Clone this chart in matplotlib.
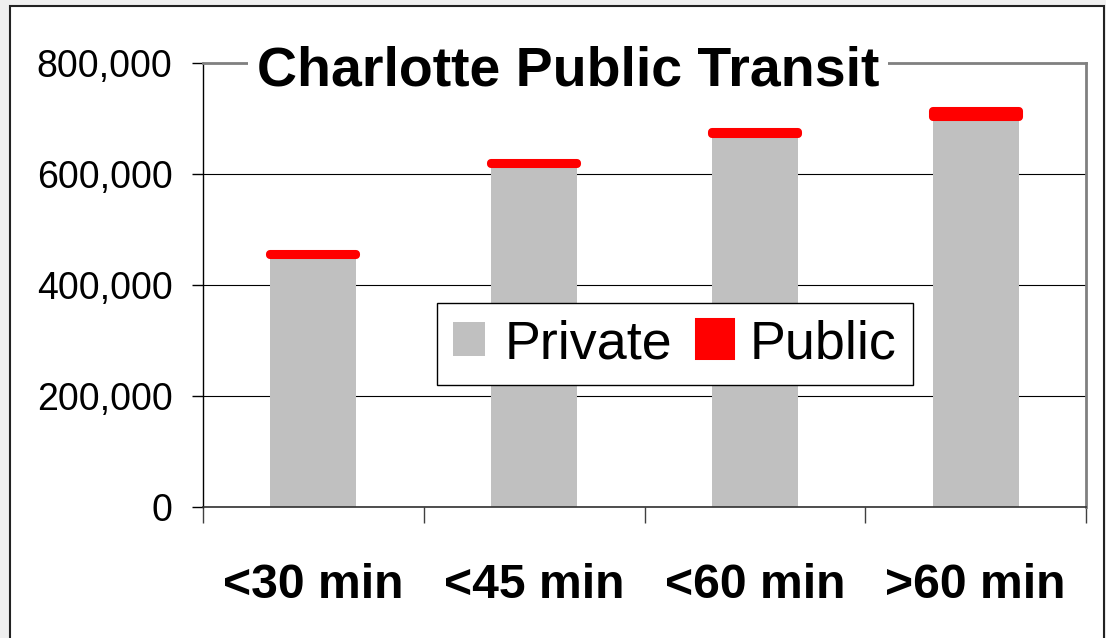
import matplotlib.pyplot as plt
from matplotlib.patches import Rectangle
from matplotlib.ticker import FuncFormatter

# Data
categories = ['<30 min', '<45 min', '<60 min', '>60 min']
private = [454000, 618000, 672000, 703000]
public = [2000, 2000, 3500, 10500]
y_ticks = [0, 200000, 400000, 600000, 800000]

plt.rcParams['font.family'] = ['Liberation Sans', 'DejaVu Sans']


def plot_transit(categories, private, public):
    fig = plt.figure(figsize=(11.06, 6.38), dpi=100, facecolor='#f0f0f0')

    # white panel with dark frame
    frame = Rectangle((10 / 1106, -0.05), 1094 / 1106, 1.05 - 6 / 638,
                      transform=fig.transFigure, facecolor='white',
                      edgecolor='#222222', linewidth=1.5, zorder=-1)
    fig.patches.append(frame)

    ax = fig.add_axes([203 / 1106, 1 - 507 / 638, 883 / 1106, 444 / 638])

    x = list(range(len(categories)))
    ax.bar(x, private, width=0.39, color='#c0c0c0', label='Private', zorder=2)
    ax.bar(x, public, bottom=private, width=0.39, color='red', edgecolor='red',
           linewidth=5.8, joinstyle='round', label='Public', zorder=3)

    ax.set_ylim(0, 800000)
    ax.set_xlim(-0.5, len(categories) - 0.5)

    ax.set_yticks(y_ticks)
    ax.yaxis.set_major_formatter(FuncFormatter(lambda v, p: f'{int(v):,}'))
    ax.tick_params(axis='y', direction='out', length=8, width=1, pad=14,
                   labelsize=27, color='black')

    # category boundaries as major ticks, labels on minor ticks
    ax.set_xticks([i - 0.5 for i in range(len(categories) + 1)])
    ax.set_xticklabels([])
    ax.set_xticks(x, minor=True)
    ax.set_xticklabels(categories, minor=True, fontsize=34.7, fontweight='bold')
    ax.tick_params(axis='x', which='major', direction='out', length=11.5,
                   width=1, color='#404040')
    ax.tick_params(axis='x', which='minor', length=0, pad=40)

    ax.yaxis.grid(True, color='black', linewidth=0.8)
    ax.set_axisbelow(True)

    ax.spines['left'].set_color('black')
    ax.spines['left'].set_linewidth(1)
    ax.spines['bottom'].set_color('#303030')
    ax.spines['bottom'].set_linewidth(1.2)
    for side in ['top', 'right']:
        ax.spines[side].set_color('#808080')
        ax.spines[side].set_linewidth(2)

    leg = ax.legend(loc='upper left', bbox_to_anchor=(437 / 1106, 1 - 303 / 638),
                    bbox_transform=fig.transFigure, borderaxespad=0, ncol=2,
                    fontsize=38.8, frameon=True, fancybox=False, edgecolor='black',
                    framealpha=1, handlelength=0.59, handleheight=0.59,
                    handletextpad=0.36, columnspacing=0.5, borderpad=0.3)
    leg.get_frame().set_linewidth(1)

    fig.text(568 / 1106, 1 - 85 / 638, 'Charlotte Public Transit',
             ha='center', va='baseline', fontsize=40, fontweight='bold',
             bbox=dict(boxstyle='square,pad=0.15', facecolor='white',
                       edgecolor='none'))

    fig.savefig('out.png', dpi=100, facecolor=fig.get_facecolor())


if __name__ == "__main__":
    plot_transit(categories, private, public)
